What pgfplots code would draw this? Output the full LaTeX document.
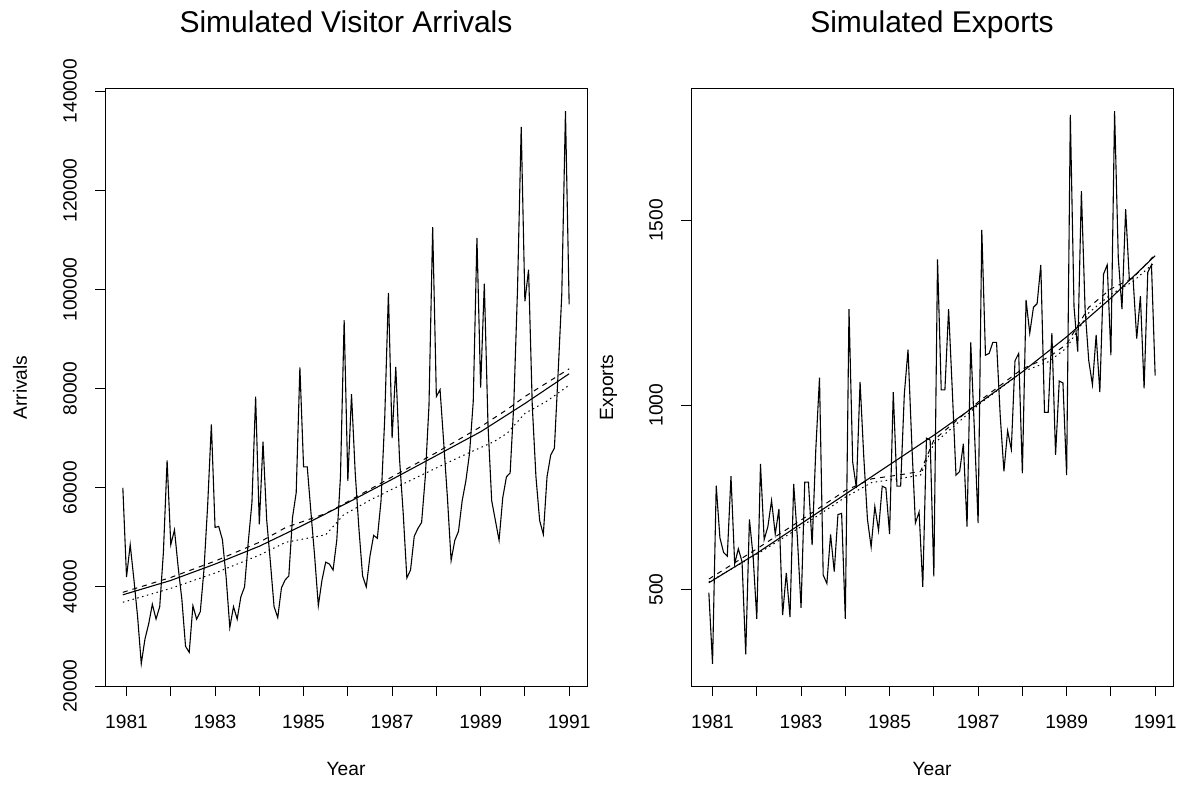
\documentclass[border=0pt]{standalone}
\usepackage{pgfplots}
\usepackage{pgfplotstable}
\pgfplotsset{compat=1.18}
\usepackage{fontspec}
\setmainfont{Liberation Sans}
\newcommand\tickfont{\fontsize{19.2}{23}\selectfont}
\newcommand\titlefont{\fontsize{30}{36}\selectfont}

\pgfplotstableread{
t a e
1980.9167 60000 491
1981.0000 42000 298
1981.0833 48500 781
1981.1667 41500 640
1981.2500 34000 600
1981.3333 24500 590
1981.4167 29500 807
1981.5000 32500 570
1981.5833 36500 610
1981.6667 33500 575
1981.7500 36000 324
1981.8333 47000 690
1981.9167 65500 590
1982.0000 48500 420
1982.0833 51500 840
1982.1667 44000 635
1982.2500 37500 670
1982.3333 28000 741
1982.4167 26800 650
1982.5000 36200 718
1982.5833 33500 430
1982.6667 35000 545
1982.7500 43500 425
1982.8333 56500 786
1982.9167 72800 640
1983.0000 52000 450
1983.0833 52200 791
1983.1667 49500 791
1983.2500 42000 620
1983.3333 31800 880
1983.4167 36000 1074
1983.5000 33500 539
1983.5833 38000 516
1983.6667 40000 649
1983.7500 49000 548
1983.8333 57000 703
1983.9167 78400 706
1984.0000 52600 420
1984.0833 69300 1260
1984.1667 53500 845
1984.2500 45000 775
1984.3333 36000 1063
1984.4167 33800 860
1984.5000 39800 690
1984.5833 41400 615
1984.6667 42200 725
1984.7500 54000 660
1984.8333 59000 780
1984.9167 84300 775
1985.0000 64200 650
1985.0833 64200 1035
1985.1667 55000 780
1985.2500 46200 780
1985.3333 36200 1030
1985.4167 41400 1150
1985.5000 45000 900
1985.5833 44600 680
1985.6667 43400 710
1985.7500 49400 507
1985.8333 62200 910
1985.9167 93800 905
1986.0000 61400 535
1986.0833 78900 1395
1986.1667 63000 1041
1986.2500 51800 1041
1986.3333 42200 1260
1986.4167 40000 1040
1986.5000 46200 810
1986.5833 50400 820
1986.6667 49800 895
1986.7500 57400 670
1986.8333 74000 1170
1986.9167 99300 930
1987.0000 70000 680
1987.0833 84400 1475
1987.1667 66000 1135
1987.2500 55000 1140
1987.3333 41800 1170
1987.4167 43400 1170
1987.5000 50200 970
1987.5833 51800 820
1987.6667 53000 930
1987.7500 62200 880
1987.8333 76600 1120
1987.9167 112600 1140
1988.0000 78400 815
1988.0833 79800 1285
1988.1667 69000 1195
1988.2500 58000 1265
1988.3333 45300 1275
1988.4167 49400 1380
1988.5000 51200 980
1988.5833 57400 980
1988.6667 61400 1195
1988.7500 67000 865
1988.8333 77400 1065
1988.9167 110400 1060
1989.0000 80200 810
1989.0833 101200 1787
1989.1667 72600 1267
1989.2500 57400 1145
1989.3333 53400 1580
1989.4167 49400 1260
1989.5000 58000 1120
1989.5833 62200 1055
1989.6667 63000 1190
1989.7500 77000 1035
1989.8333 100000 1355
1989.9167 132800 1380
1990.0000 97600 1135
1990.0833 104000 1797
1990.1667 76600 1400
1990.2500 62200 1260
1990.3333 53400 1531
1990.4167 50600 1340
1990.5000 62200 1345
1990.5833 66600 1180
1990.6667 68000 1295
1990.7500 83000 1045
1990.8333 99000 1360
1990.9167 136000 1380
1991.0000 97000 1080
}\series

\pgfplotstableread{
t s
1980.9167 38400
1982.0 41300
1983.0 44600
1984.0 48200
1985.0 52500
1986.0 57000
1987.0 61700
1988.0 66500
1989.0 71300
1990.0 77000
1991.0 83000
}\arrsolid
\pgfplotstableread{
t d
1980.9167 38900
1982.0 41900
1983.0 45200
1984.0 49000
1984.6 52000
1985.5 54800
1986.0 57200
1987.0 62200
1988.0 67100
1989.0 72300
1989.6 75800
1990.0 78400
1991.0 84000
}\arrdash
\pgfplotstableread{
t o
1980.9167 36900
1982.0 39700
1983.0 42800
1984.0 46400
1984.6 49000
1985.5 50500
1985.9 54500
1986.5 57500
1987.0 59700
1988.0 64000
1988.6 66500
1989.3 69300
1989.6 71000
1990.0 75000
1990.5 77500
1991.0 80700
}\arrdot

\pgfplotstableread{
t s
1980.9167 518
1982.0 598
1983.0 678
1984.0 758
1985.0 838
1986.0 918
1987.0 1003
1988.0 1090
1989.0 1185
1990.0 1290
1991.0 1405
}\expsolid
\pgfplotstableread{
t d
1980.9167 528
1982.0 610
1983.0 688
1984.0 768
1984.6 800
1985.2 810
1985.7 820
1986.0 905
1987.0 1008
1988.0 1098
1988.6 1130
1989.0 1165
1989.5 1265
1990.0 1315
1990.5 1345
1991.0 1408
}\expdash
\pgfplotstableread{
t o
1980.9167 520
1982.0 595
1983.0 670
1984.0 750
1984.6 790
1985.2 800
1985.7 810
1986.0 895
1987.0 1000
1988.0 1090
1988.6 1118
1989.0 1155
1989.5 1250
1990.0 1300
1990.5 1335
1991.0 1388
}\expdot

\pgfplotsset{
  rpanel/.style={
    scale only axis, width=482pt, height=597pt,
    axis line style={line width=1pt, black},
    tick align=outside, major tick length=10pt,
    tick style={line width=1pt, black},
    xtick pos=left, ytick pos=left,
    xmin=1980.5137, xmax=1991.4033,
    xtick={1981,1982,1983,1984,1985,1986,1987,1988,1989,1990,1991},
    xticklabels={1981,,1983,,1985,,1987,,1989,,1991},
    xticklabel style={font=\tickfont, inner sep=0pt, anchor=north},
    yticklabel style={font=\tickfont, inner sep=0pt, rotate=90, anchor=south},
    xticklabel shift=19pt, yticklabel shift=18pt,
    scaled ticks=false,
    every axis title/.style={at={(axis description cs:0.5,1)}, anchor=base, yshift=56pt, font=\titlefont, inner sep=0pt},
    every axis x label/.style={at={(axis description cs:0.5,0)}, anchor=north, yshift=-76pt, font=\tickfont, inner sep=0pt},
    every axis y label/.style={at={(axis description cs:0,0.5)}, xshift=-78pt, rotate=90, anchor=base, font=\tickfont, inner sep=0pt},
    xlabel={Year},
  },
  ser/.style={black, line width=1.1pt, mark=none},
  tsolid/.style={black, line width=1.1pt, mark=none},
  tdash/.style={black, line width=1pt, mark=none, dash pattern=on 5pt off 5pt},
  tdot/.style={black, line width=1pt, mark=none, dash pattern=on 1.5pt off 3.5pt},
}

\begin{document}
\begin{tikzpicture}
\path[use as bounding box] (0,0) rectangle (1182pt,785pt);
\begin{axis}[rpanel, at={(105pt,99pt)}, anchor=south west,
  title={Simulated Visitor Arrivals}, ylabel={Arrivals},
  ymin=20000, ymax=140460,
  ytick={20000,40000,60000,80000,100000,120000,140000},
  yticklabels={20000,40000,60000,80000,100000,120000,140000}]
\addplot[ser] table[x=t,y=a] {\series};
\addplot[tsolid] table[x=t,y=s] {\arrsolid};
\addplot[tdash] table[x=t,y=d] {\arrdash};
\addplot[tdot] table[x=t,y=o] {\arrdot};
\end{axis}
\begin{axis}[rpanel, at={(691pt,99pt)}, anchor=south west,
  title={Simulated Exports}, ylabel={Exports},
  ymin=238, ymax=1857,
  ytick={500,1000,1500},
  yticklabels={500,1000,1500}]
\addplot[ser] table[x=t,y=e] {\series};
\addplot[tsolid] table[x=t,y=s] {\expsolid};
\addplot[tdash] table[x=t,y=d] {\expdash};
\addplot[tdot] table[x=t,y=o] {\expdot};
\end{axis}
\end{tikzpicture}
\end{document}
